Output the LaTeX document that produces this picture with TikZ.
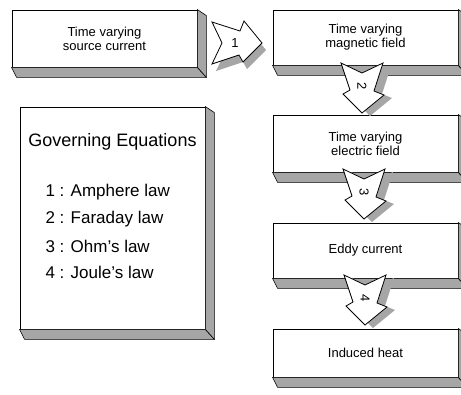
\documentclass[tikz,border=0pt]{standalone}
\usepackage{fontspec}
\setmainfont{Liberation Sans}
\usetikzlibrary{calc}

\begin{document}
\begin{tikzpicture}[x=1pt, y=-1pt,
    box/.style = {shape=rectangle, draw, fill=white,
      line width=0.8pt, minimum width=185pt, inner sep=0pt,
      align=center, font=\fontsize{13}{14}\selectfont},
    face/.style = {fill=black!35, draw=black, line width=0.6pt},
    law/.style = {anchor=west, font=\fontsize{17}{19}\selectfont},
    pics/flowarrow/.style 2 args = {code={
      \fill[black!35, shift={(#2)}] (0,-21) -- (28,-12) -- (32,-22) -- (50,0)
        -- (31,19) -- (27,12) -- (0,21) -- (10,0) -- cycle;
      \draw[fill=white, line width=0.8pt] (0,-21) -- (28,-12) -- (32,-22) -- (50,0)
        -- (31,19) -- (27,12) -- (0,21) -- (10,0) -- cycle;
      \node[transform shape, font=\fontsize{13}{14}\selectfont] (-num) at (23,0) {#1};
    }}]
    \useasboundingbox (0,0) rectangle (461,394);

    % boxes
    \node[box, minimum height=57pt] (src) at (104.5,38.5) {Time varying\\source current};
    \node[box, minimum height=55pt] (mag) at (365.5,37.5) {Time varying\\magnetic field};
    \node[box, minimum height=57pt] (ele) at (365.5,143.5) {Time varying\\electric field};
    \node[box, minimum height=55pt] (eddy) at (365.5,250.5) {Eddy current};
    \node[box, minimum height=48pt] (heat) at (365.5,353) {Induced heat};
    \node[box, minimum height=222pt] (gov) at (112.5,218) {};

    % 3d sides
    \foreach \b in {src,mag,ele,eddy,heat,gov}{
      \draw[face] (\b.south west) -- (\b.south east) -- ++(9,10)
        -- ($(\b.south west)+(5,10)$) -- cycle;
      \draw[face] (\b.north east) -- ++(9,6)
        -- ($(\b.south east)+(9,10)$) -- (\b.south east) -- cycle;
    }

    % governing equations
    \node[font=\fontsize{18}{20}\selectfont] (govtitle) at (112.5,142) {Governing Equations};
    \node[law] (law1) at (42,192) {1 : Amphere law};
    \node[law] (law2) at (42,219) {2 : Faraday law};
    \node[law] (law3) at (42,246) {3 : Ohm's law};
    \node[law] (law4) at (42,272) {4 : Joule's law};

    % arrows
    \pic (ar1) at (212,43) {flowarrow={1}{4,7}};
    \pic[rotate=-90] (ar2) at (362,63) {flowarrow={2}{3,-8}};
    \pic[rotate=-90] (ar3) at (364,169) {flowarrow={3}{3,-8}};
    \pic[rotate=-90] (ar4) at (365,275) {flowarrow={4}{3,-8}};
\end{tikzpicture}
\end{document}
